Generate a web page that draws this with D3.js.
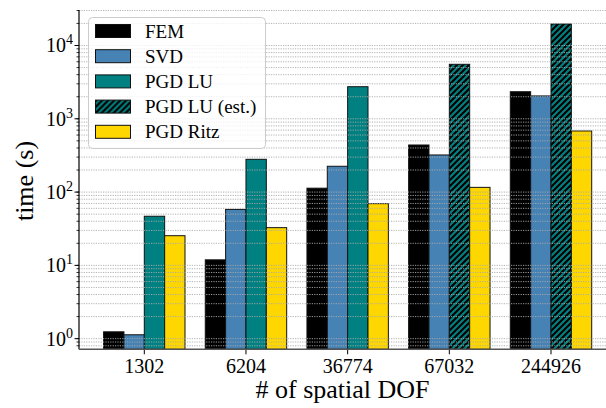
<!DOCTYPE html>
<html>
<head>
<meta charset="utf-8">
<script src="https://cdn.jsdelivr.net/npm/d3@7"></script>
<style>
  body { margin: 0; background: #fff; }
  text { font-family: "Liberation Serif", "DejaVu Serif", serif; fill: #000; }
</style>
</head>
<body>
<script>
// data
var categories = ["1302", "6204", "36774", "67032", "244926"];
var femTimes = [1.24, 11.9, 113, 439, 2340];
var svdTimes = [1.13, 58, 225, 321, 2050];
var pgdLuTimes = [46.8, 280, 2740, null, null];
var pgdLuEstTimes = [null, null, null, 5540, 19650];
var ritzTimes = [25.4, 32.7, 69.5, 116, 682];
var seriesNames = ["FEM", "SVD", "PGD LU", "PGD LU (est.)", "PGD Ritz"];
var yTickValues = [1, 10, 100, 1000, 10000];
var yTickExp = ["0", "1", "2", "3", "4"];

var width = 606, height = 408;
var plotLeft = 79, plotRight = 606, plotTop = 10, plotBottom = 349.3;

var svg = d3.select('body').append('svg')
        .attr('width', width)
        .attr('height', height);

// hatch for the estimated bars
var defs = svg.append('defs');
var hatch = defs.append('pattern')
        .attr('id', 'hatch')
        .attr('patternUnits', 'userSpaceOnUse')
        .attr('width', 6)
        .attr('height', 6);
hatch.append('rect')
        .attr('width', 6)
        .attr('height', 6)
        .attr('fill', '#008080');
hatch.append('path')
        .attr('d', 'M0,6 L6,0 M-1.5,1.5 L1.5,-1.5 M4.5,7.5 L7.5,4.5')
        .attr('stroke', '#000')
        .attr('stroke-width', 2.1);

// scales
var x = d3.scalePoint()
        .domain(categories)
        .range([144.3, 551]);
var slot = d3.scaleBand()
        .domain(["FEM", "SVD", "PGD LU", "PGD Ritz"])
        .range([-40.7, 40.7]);
var y = d3.scaleLog()
        .domain([0.716, 30500])
        .range([plotBottom, plotTop]);

var series = [
    {name: seriesNames[0], slot: "FEM", values: femTimes, fill: "#000000"},
    {name: seriesNames[1], slot: "SVD", values: svdTimes, fill: "#4682b4"},
    {name: seriesNames[2], slot: "PGD LU", values: pgdLuTimes, fill: "#008080"},
    {name: seriesNames[3], slot: "PGD LU", values: pgdLuEstTimes, fill: "url(#hatch)"},
    {name: seriesNames[4], slot: "PGD Ritz", values: ritzTimes, fill: "#ffd700"}
];

// bars
series.forEach(function(s) {
    var rows = categories.map(function(c, i) { return {cat: c, v: s.values[i]}; })
            .filter(function(d) { return d.v != null; });
    svg.append('g').selectAll('rect')
        .data(rows)
        .enter().append('rect')
        .attr('x', function(d) { return x(d.cat) + slot(s.slot); })
        .attr('y', function(d) { return y(d.v); })
        .attr('width', slot.bandwidth())
        .attr('height', function(d) { return plotBottom - y(d.v); })
        .attr('fill', s.fill)
        .attr('stroke', '#111')
        .attr('stroke-width', 1);
});

// grid lines, major and minor, on top of the bars
var gridVals = y.ticks(40).filter(function(v) { return y(v) >= plotTop - 0.5 && y(v) <= plotBottom; });
svg.append('g').selectAll('line')
        .data(gridVals)
        .enter().append('line')
        .attr('x1', plotLeft)
        .attr('x2', plotRight)
        .attr('y1', function(d) { return y(d); })
        .attr('y2', function(d) { return y(d); })
        .attr('stroke', '#aaa')
        .attr('stroke-width', 0.9)
        .attr('stroke-dasharray', '1.2,1.2');

// y axis minor ticks
svg.append('g').selectAll('line')
        .data(gridVals)
        .enter().append('line')
        .attr('x1', plotLeft - 2.5)
        .attr('x2', plotLeft)
        .attr('y1', function(d) { return y(d); })
        .attr('y2', function(d) { return y(d); })
        .attr('stroke', '#000')
        .attr('stroke-width', 0.8);

// y axis major ticks and labels
var yt = svg.append('g').selectAll('g')
        .data(yTickValues)
        .enter().append('g')
        .attr('transform', function(d) { return 'translate(0,' + y(d) + ')'; });
yt.append('line')
        .attr('x1', plotLeft - 4.5)
        .attr('x2', plotLeft)
        .attr('stroke', '#000')
        .attr('stroke-width', 1);
var ytext = yt.append('text')
        .attr('x', 73)
        .attr('y', 7)
        .attr('text-anchor', 'end')
        .style('font-size', '20px');
ytext.append('tspan').text('10');
ytext.append('tspan')
        .attr('dy', -8)
        .style('font-size', '14px')
        .text(function(d, i) { return yTickExp[i]; });

// x axis ticks and labels
var xt = svg.append('g').selectAll('g')
        .data(categories)
        .enter().append('g')
        .attr('transform', function(d) { return 'translate(' + x(d) + ',0)'; });
xt.append('line')
        .attr('y1', plotBottom)
        .attr('y2', plotBottom + 5)
        .attr('stroke', '#000')
        .attr('stroke-width', 1);
xt.append('text')
        .attr('y', 373)
        .attr('text-anchor', 'middle')
        .style('font-size', '20px')
        .text(function(d) { return d; });

// spines
svg.append('line')
        .attr('x1', plotLeft).attr('x2', plotLeft)
        .attr('y1', plotTop).attr('y2', plotBottom)
        .attr('stroke', '#000')
        .attr('stroke-width', 1.2);
svg.append('line')
        .attr('x1', plotLeft).attr('x2', plotRight)
        .attr('y1', plotBottom).attr('y2', plotBottom)
        .attr('stroke', '#555')
        .attr('stroke-width', 1.4);

// axis titles
svg.append('text')
        .attr('x', 342.5)
        .attr('y', 398)
        .attr('text-anchor', 'middle')
        .style('font-size', '26px')
        .text('# of spatial DOF');
svg.append('text')
        .attr('text-anchor', 'middle')
        .attr('transform', 'translate(33,181) rotate(-90)')
        .style('font-size', '26px')
        .text('time (s)');

// legend
var legend = svg.append('g');
legend.append('rect')
        .attr('x', 88.5)
        .attr('y', 17.5)
        .attr('width', 177)
        .attr('height', 131)
        .attr('rx', 4)
        .attr('fill', '#fff')
        .attr('fill-opacity', 0.8)
        .attr('stroke', '#ccc')
        .attr('stroke-width', 1);
var entries = legend.selectAll('g.entry')
        .data(series)
        .enter().append('g')
        .attr('transform', function(d, i) { return 'translate(0,' + (31 + i * 25.2) + ')'; });
entries.append('rect')
        .attr('x', 95.5)
        .attr('y', -6.5)
        .attr('width', 35)
        .attr('height', 13)
        .attr('fill', function(d) { return d.fill; })
        .attr('stroke', '#111')
        .attr('stroke-width', 1);
entries.append('text')
        .attr('x', 145)
        .attr('y', 6.5)
        .style('font-size', '19px')
        .text(function(d) { return d.name; });
</script>
</body>
</html>
